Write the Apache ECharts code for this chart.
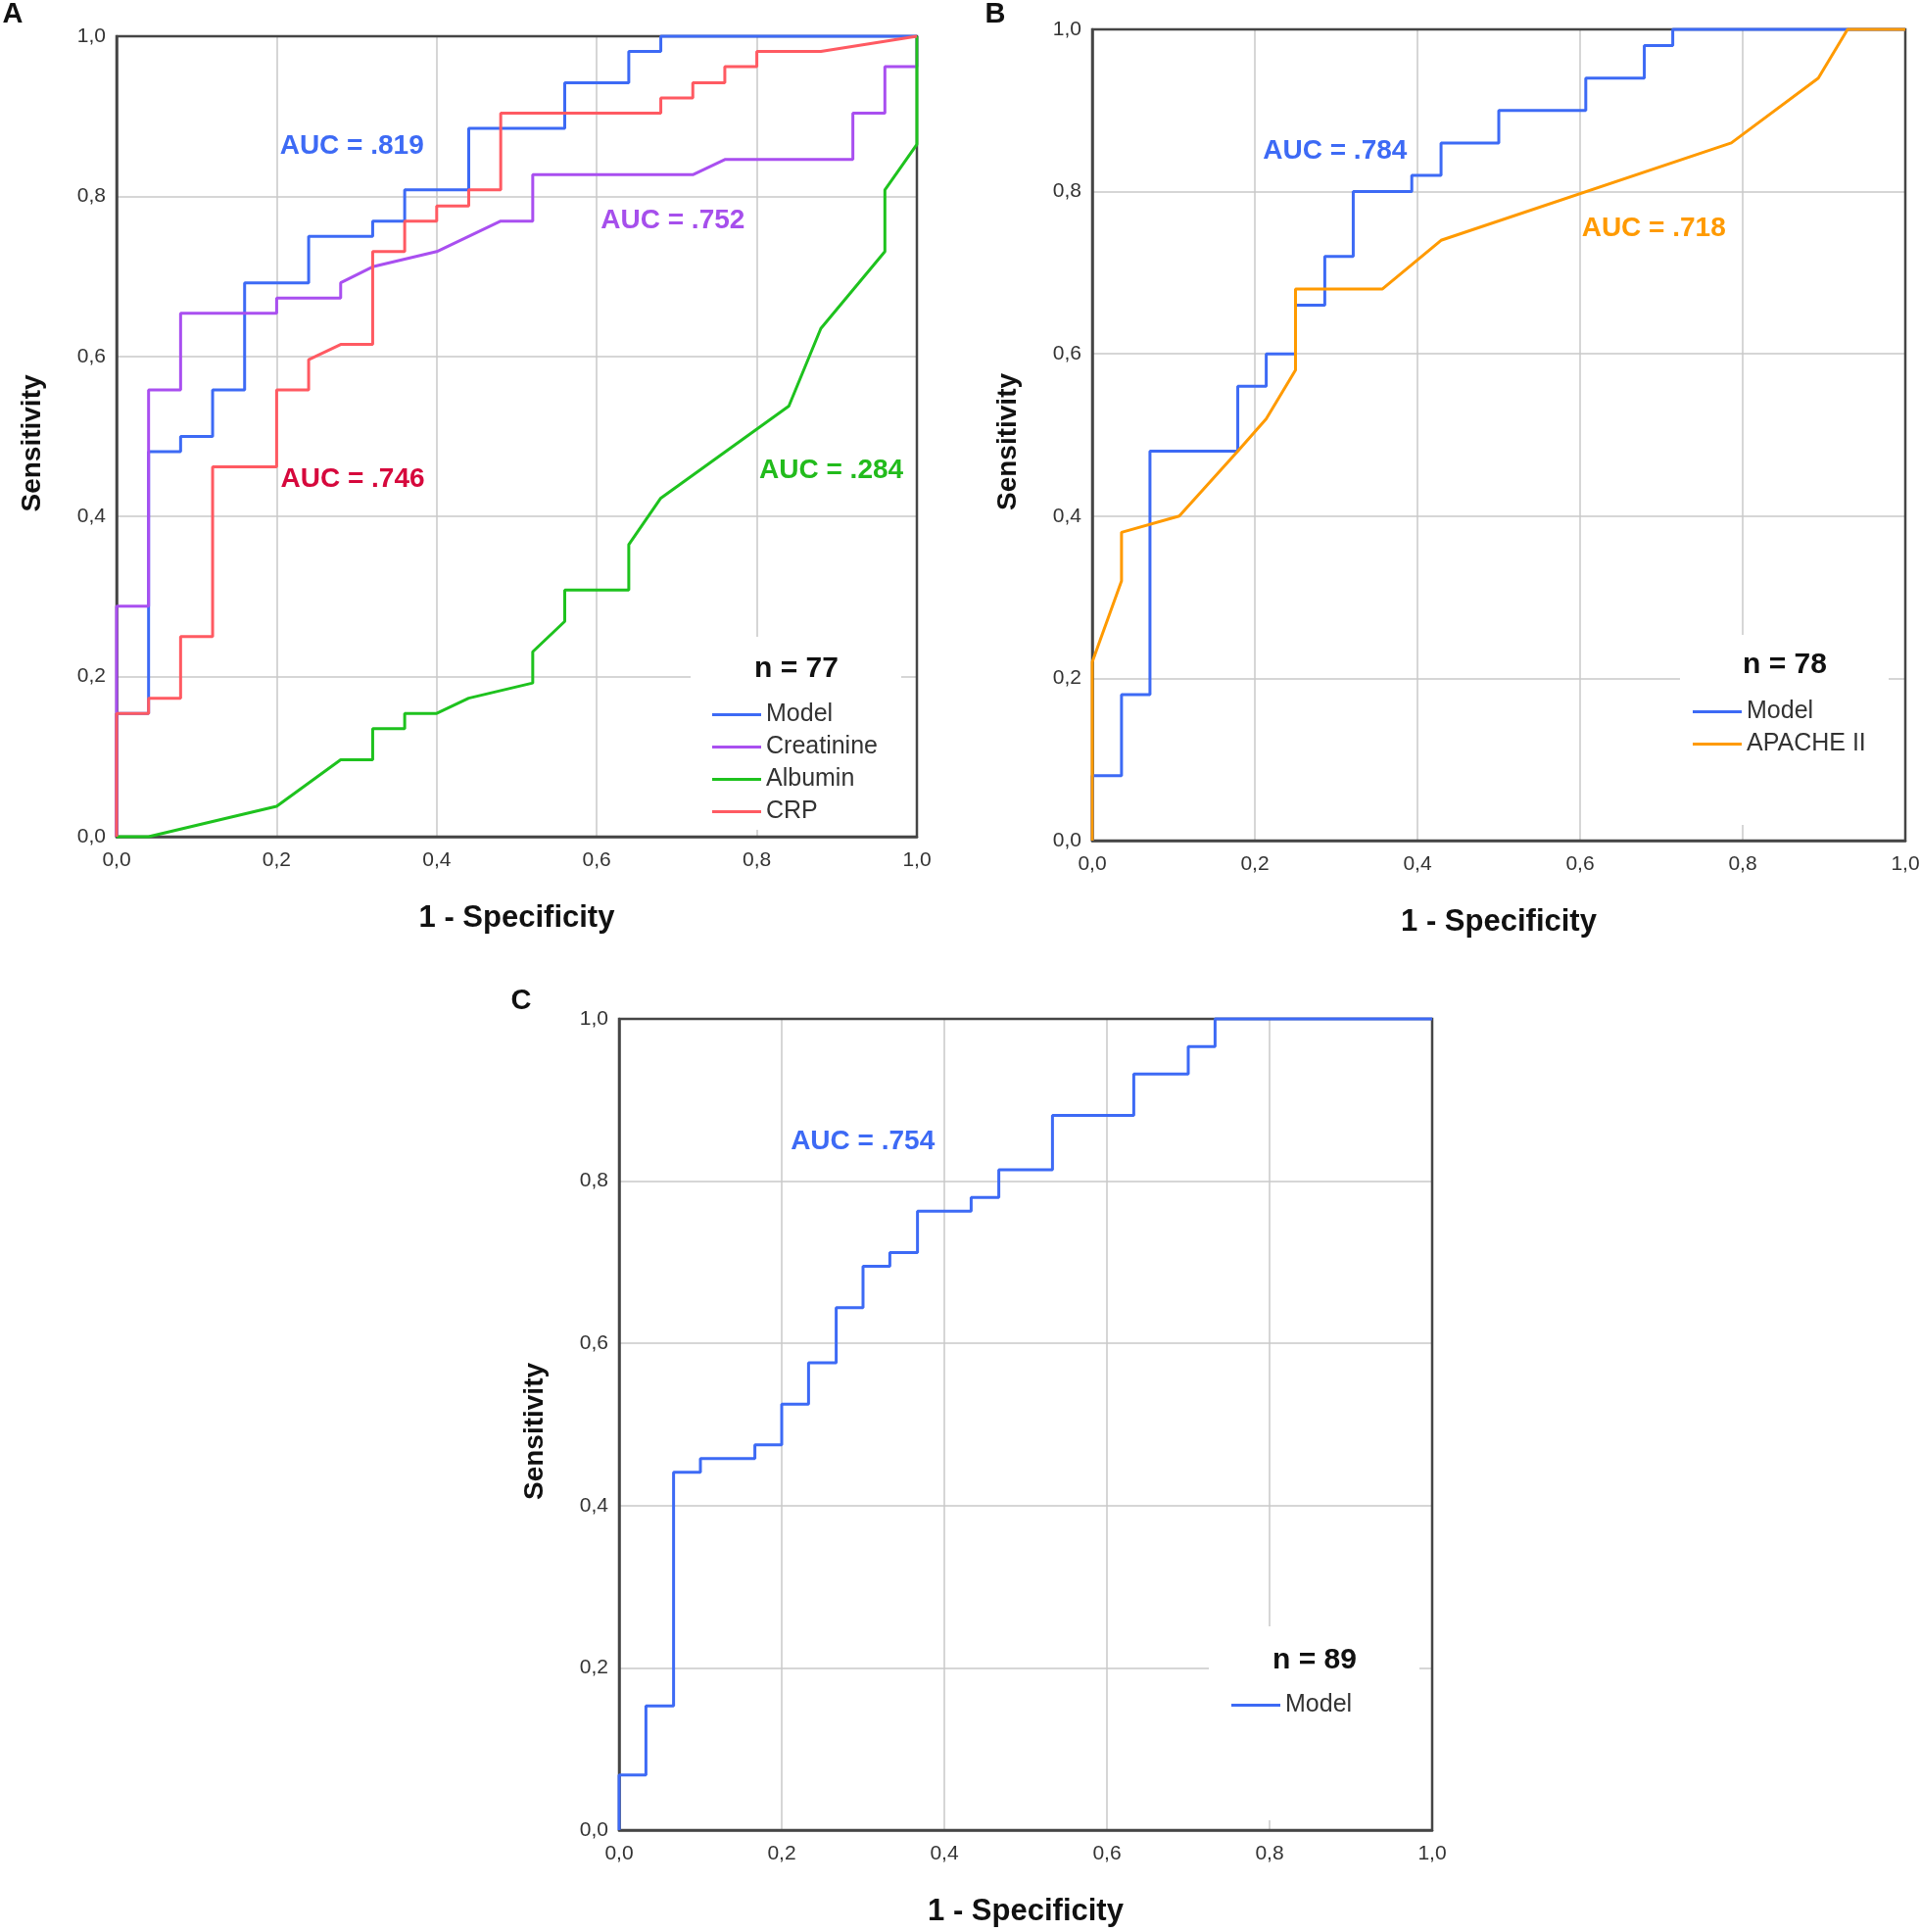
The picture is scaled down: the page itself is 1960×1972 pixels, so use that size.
<!DOCTYPE html>
<html>
<head>
<meta charset="utf-8">
<script src="https://cdn.jsdelivr.net/npm/echarts@6/dist/echarts.min.js"></script>
<style>
html,body{margin:0;padding:0;background:#fff;}
#chart{width:1960px;height:1972px;}
</style>
</head>
<body>
<div id="chart"></div>
<script>
// ---------- DATA (x = 1 - Specificity, y = Sensitivity) ----------
const tickValues = [0, 0.2, 0.4, 0.6, 0.8, 1.0];

// Panel A (n = 77)
const aModel = [[0,0],[0,0.154],[0.04,0.154],[0.04,0.481],[0.08,0.481],[0.08,0.5],[0.12,0.5],[0.12,0.558],[0.16,0.558],[0.16,0.692],[0.24,0.692],[0.24,0.75],[0.32,0.75],[0.32,0.769],[0.36,0.769],[0.36,0.808],[0.44,0.808],[0.44,0.885],[0.56,0.885],[0.56,0.942],[0.64,0.942],[0.64,0.981],[0.68,0.981],[0.68,1],[1,1]];
const aCreatinine = [[0,0],[0,0.288],[0.04,0.288],[0.04,0.558],[0.08,0.558],[0.08,0.654],[0.2,0.654],[0.2,0.673],[0.28,0.673],[0.28,0.692],[0.32,0.712],[0.4,0.731],[0.48,0.769],[0.52,0.769],[0.52,0.827],[0.72,0.827],[0.76,0.846],[0.92,0.846],[0.92,0.904],[0.96,0.904],[0.96,0.962],[1,0.962],[1,1]];
const aAlbumin = [[0,0],[0.04,0],[0.2,0.038],[0.28,0.096],[0.32,0.096],[0.32,0.135],[0.36,0.135],[0.36,0.154],[0.4,0.154],[0.44,0.173],[0.52,0.192],[0.52,0.231],[0.56,0.269],[0.56,0.308],[0.64,0.308],[0.64,0.365],[0.68,0.423],[0.84,0.538],[0.88,0.635],[0.96,0.731],[0.96,0.808],[1,0.865],[1,1]];
const aCRP = [[0,0],[0,0.154],[0.04,0.154],[0.04,0.173],[0.08,0.173],[0.08,0.25],[0.12,0.25],[0.12,0.462],[0.2,0.462],[0.2,0.558],[0.24,0.558],[0.24,0.596],[0.28,0.615],[0.32,0.615],[0.32,0.731],[0.36,0.731],[0.36,0.769],[0.4,0.769],[0.4,0.788],[0.44,0.788],[0.44,0.808],[0.48,0.808],[0.48,0.904],[0.68,0.904],[0.68,0.923],[0.72,0.923],[0.72,0.942],[0.76,0.942],[0.76,0.962],[0.8,0.962],[0.8,0.981],[0.88,0.981],[1,1]];

// Panel B (n = 78)
const bModel = [[0,0],[0,0.08],[0.036,0.08],[0.036,0.18],[0.071,0.18],[0.071,0.48],[0.179,0.48],[0.179,0.56],[0.214,0.56],[0.214,0.6],[0.25,0.6],[0.25,0.66],[0.286,0.66],[0.286,0.72],[0.321,0.72],[0.321,0.8],[0.393,0.8],[0.393,0.82],[0.429,0.82],[0.429,0.86],[0.5,0.86],[0.5,0.9],[0.607,0.9],[0.607,0.94],[0.679,0.94],[0.679,0.98],[0.714,0.98],[0.714,1],[1,1]];
const bApache = [[0,0],[0,0.22],[0.036,0.32],[0.036,0.38],[0.107,0.4],[0.179,0.48],[0.214,0.52],[0.25,0.58],[0.25,0.68],[0.357,0.68],[0.429,0.74],[0.786,0.86],[0.893,0.94],[0.929,1],[1,1]];

// Panel C (n = 89)
const cModel = [[0,0],[0,0.068],[0.033,0.068],[0.033,0.153],[0.067,0.153],[0.067,0.441],[0.1,0.441],[0.1,0.458],[0.167,0.458],[0.167,0.475],[0.2,0.475],[0.2,0.525],[0.233,0.525],[0.233,0.576],[0.267,0.576],[0.267,0.644],[0.3,0.644],[0.3,0.695],[0.333,0.695],[0.333,0.712],[0.367,0.712],[0.367,0.763],[0.433,0.763],[0.433,0.78],[0.467,0.78],[0.467,0.814],[0.533,0.814],[0.533,0.881],[0.633,0.881],[0.633,0.932],[0.7,0.932],[0.7,0.966],[0.733,0.966],[0.733,1],[1,1]];

const legendA = ['Model', 'Creatinine', 'Albumin', 'CRP'];
const legendB = ['Model', 'APACHE II'];
const legendC = ['Model'];
const sampleSizes = ['n = 77', 'n = 78', 'n = 89'];
const aucTexts = ['AUC = .819', 'AUC = .746', 'AUC = .752', 'AUC = .284', 'AUC = .784', 'AUC = .718', 'AUC = .754'];

// ---------- STYLE / LAYOUT ----------
const FONT = '"Liberation Sans", Arial, sans-serif';
const FRAME = '#454545';
const C_BLUE = '#3d6af5', C_PURPLE = '#a94ff0', C_GREEN = '#1ec21e', C_RED = '#ff5a62', C_ORANGE = '#ff9a00';
const grids = [
  {left: 119, top: 37, width: 817, height: 817},
  {left: 1115, top: 30, width: 830, height: 828},
  {left: 632, top: 1040, width: 830, height: 828}
];
const fmt = v => v.toFixed(1).replace('.', ',');

function xAxis(i) {
  return {
    type: 'value', gridIndex: i, min: 0, max: 1, interval: 0.2,
    name: '1 - Specificity', nameLocation: 'middle', nameGap: 68,
    nameTextStyle: {fontFamily: FONT, fontSize: 31, fontWeight: 'bold', color: '#111'},
    axisLine: {show: true, onZero: false, lineStyle: {color: FRAME, width: 2.5}},
    axisTick: {show: false},
    axisLabel: {formatter: fmt, fontFamily: FONT, fontSize: 21, color: '#333', margin: 14, showMinLabel: true, showMaxLabel: true, hideOverlap: false},
    splitLine: {show: true, lineStyle: {color: '#c8c8c8', width: 1.5}}
  };
}
function yAxis(i) {
  return {
    type: 'value', gridIndex: i, min: 0, max: 1, interval: 0.2,
    name: 'Sensitivity', nameLocation: 'middle', nameGap: 72, nameRotate: 90,
    nameTextStyle: {fontFamily: FONT, fontSize: 28, fontWeight: 'bold', color: '#111', padding: [0, 14, 0, 0]},
    axisLine: {show: true, onZero: false, lineStyle: {color: FRAME, width: 2.5}},
    axisTick: {show: false},
    axisLabel: {formatter: fmt, fontFamily: FONT, fontSize: 21, color: '#333', margin: 11, padding: [6, 0, 0, 0], showMinLabel: true, showMaxLabel: true, hideOverlap: false},
    splitLine: {show: true, lineStyle: {color: '#c8c8c8', width: 1.5}}
  };
}
function line(name, data, color, gi) {
  return {
    type: 'line', name: name, data: data, xAxisIndex: gi, yAxisIndex: gi,
    color: color, symbol: 'none', showSymbol: false, clip: false, z: 3,
    lineStyle: {color: color, width: 3}, itemStyle: {color: color},
    emphasis: {disabled: true}
  };
}
function legend(names, left, top) {
  return {
    data: names, orient: 'vertical', left: left, top: top, padding: 0,
    icon: 'rect', itemWidth: 50, itemHeight: 3, itemGap: 8,
    textStyle: {fontFamily: FONT, fontSize: 25, color: '#333', lineHeight: 25},
    selectedMode: false
  };
}

const chart = echarts.init(document.getElementById('chart'), null, {renderer: 'canvas'});
chart.setOption({
  animation: false,
  backgroundColor: '#fff',
  grid: grids.map(g => Object.assign({show: true, z: 2, borderColor: FRAME, borderWidth: 2.5, backgroundColor: 'transparent', containLabel: false, outerBoundsMode: 'none'}, g)),
  xAxis: [0, 1, 2].map(xAxis),
  yAxis: [0, 1, 2].map(yAxis),
  legend: [legend(legendA, 727, 717), legend(legendB, 1728, 714), legend(legendC, 1257, 1728)],
  tooltip: {show: false},
  series: [
    line('Model', aModel, C_BLUE, 0),
    line('Creatinine', aCreatinine, C_PURPLE, 0),
    line('Albumin', aAlbumin, C_GREEN, 0),
    line('CRP', aCRP, C_RED, 0),
    line('Model', bModel, C_BLUE, 1),
    line('APACHE II', bApache, C_ORANGE, 1),
    line('Model', cModel, C_BLUE, 2)
  ]
});

// annotations anchored in data coordinates (left-middle of text)
const aucLayout = [
  {grid: 0, at: [0.204, 0.863], color: C_BLUE},
  {grid: 0, at: [0.205, 0.447], color: '#d6083c'},
  {grid: 0, at: [0.605, 0.769], color: '#a64fec'},
  {grid: 0, at: [0.803, 0.458], color: '#22bb1c'},
  {grid: 1, at: [0.210, 0.850], color: C_BLUE},
  {grid: 1, at: [0.602, 0.755], color: '#ff9a00'},
  {grid: 2, at: [0.211, 0.849], color: C_BLUE}
];
const graphics = [];
// white legend boxes (cut gridlines like the original)
[[705, 650, 215, 197], [1715, 648, 213, 194], [1234, 1660, 215, 198]].forEach(r => {
  graphics.push({type: 'rect', z: 1, silent: true, shape: {x: r[0], y: r[1], width: r[2], height: r[3]}, style: {fill: '#fff'}});
});
[[813, 683], [1822, 679], [1342, 1695]].forEach((p, i) => {
  graphics.push({type: 'text', z: 10, silent: true, x: p[0], y: p[1],
    style: {text: sampleSizes[i], fill: '#111', font: 'bold 30px ' + FONT, align: 'center', verticalAlign: 'middle'}});
});
aucLayout.forEach((a, i) => {
  const p = chart.convertToPixel({gridIndex: a.grid}, a.at);
  graphics.push({type: 'text', z: 10, silent: true, x: p[0], y: p[1],
    style: {text: aucTexts[i], fill: a.color, font: 'bold 28px ' + FONT, align: 'left', verticalAlign: 'middle'}});
});
[['A', 13, 15], ['B', 1016, 15], ['C', 532, 1022]].forEach(l => {
  graphics.push({type: 'text', z: 10, silent: true, x: l[1], y: l[2],
    style: {text: l[0], fill: '#111', font: 'bold 29px ' + FONT, align: 'center', verticalAlign: 'middle'}});
});
chart.setOption({graphic: graphics});
</script>
</body>
</html>
